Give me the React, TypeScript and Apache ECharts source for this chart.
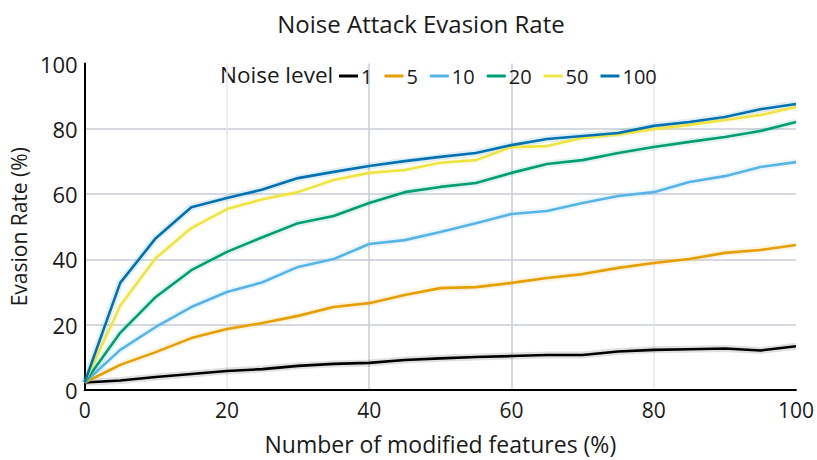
import React, { useEffect, useRef } from "react";
import * as echarts from "echarts";

const features = [0, 5, 10, 15, 20, 25, 30, 35, 40, 45, 50, 55, 60, 65, 70, 75, 80, 85, 90, 95, 100];
const noiseLevels = ["1", "5", "10", "20", "50", "100"];
const noise1 = [2.3, 2.9, 4.0, 4.9, 5.8, 6.4, 7.4, 8.0, 8.3, 9.2, 9.7, 10.1, 10.4, 10.7, 10.7, 11.8, 12.3, 12.5, 12.7, 12.1, 13.4];
const noise5 = [2.3, 7.7, 11.6, 15.9, 18.7, 20.5, 22.7, 25.4, 26.6, 29.1, 31.2, 31.5, 32.8, 34.3, 35.5, 37.4, 38.9, 40.1, 42.0, 42.9, 44.4];
const noise10 = [2.3, 12.3, 19.3, 25.4, 30.0, 33.0, 37.7, 40.1, 44.7, 45.9, 48.4, 51.1, 53.9, 54.8, 57.3, 59.4, 60.6, 63.7, 65.5, 68.3, 69.8];
const noise20 = [2.3, 17.5, 28.5, 36.7, 42.3, 46.8, 51.1, 53.3, 57.3, 60.6, 62.2, 63.4, 66.5, 69.2, 70.4, 72.6, 74.4, 76.0, 77.5, 79.3, 82.1];
const noise50 = [2.3, 25.8, 40.4, 49.6, 55.4, 58.4, 60.6, 64.3, 66.5, 67.4, 69.6, 70.4, 74.4, 74.7, 77.2, 78.3, 79.9, 81.2, 82.7, 84.2, 86.7];
const noise100 = [2.3, 32.8, 46.5, 56.0, 58.8, 61.4, 64.9, 66.8, 68.6, 70.1, 71.4, 72.6, 75.0, 76.9, 77.8, 78.7, 80.9, 82.1, 83.6, 86.0, 87.6];
const yTicks = [0, 20, 40, 60, 80, 100];
const xTicks = [0, 20, 40, 60, 80, 100];

const colors = ["#000000", "#E69F00", "#56B4E9", "#009E73", "#F0E442", "#0072B2"];
const FONT = "Open Sans";
const TEXT = "#1a1a1a";

export default function App() {
  const ref = useRef<HTMLDivElement>(null);
  useEffect(() => {
    if (!ref.current) return;
    const chart = echarts.init(ref.current, null, { renderer: "svg" });
    const all = [noise1, noise5, noise10, noise20, noise50, noise100];
    const pts = (arr: number[]) => arr.map((v, i) => [features[i], v]);
    const bands = all.map((arr, i) => ({
      name: noiseLevels[i] + " band",
      type: "line",
      data: pts(arr),
      showSymbol: false,
      silent: true,
      z: 1,
      lineStyle: { color: colors[i], width: 7, opacity: 0.12 },
    }));
    const lines = all.map((arr, i) => ({
      name: noiseLevels[i],
      type: "line",
      data: pts(arr),
      showSymbol: false,
      z: 3,
      itemStyle: { color: colors[i] },
      lineStyle: { color: colors[i], width: 2.6 },
    }));
    chart.setOption({
      animation: false,
      backgroundColor: "#ffffff",
      textStyle: { fontFamily: FONT, color: TEXT },
      title: {
        text: "Noise Attack Evasion Rate",
        left: 416,
        textAlign: "center",
        top: 6,
        textStyle: { fontFamily: FONT, fontSize: 24, fontWeight: "normal", color: TEXT },
      },
      graphic: [
        {
          type: "text",
          left: 220,
          top: 63,
          style: { text: "Noise level", font: `22.5px "${FONT}"`, fill: TEXT },
        },
      ],
      legend: {
        data: noiseLevels,
        left: 339,
        top: 66,
        icon: "rect",
        itemWidth: 19,
        itemHeight: 3,
        itemGap: 12,
        padding: 0,
        textStyle: { fontFamily: FONT, fontSize: 20, color: TEXT, padding: [0, 0, 0, -2] },
      },
      grid: { left: 84, right: 20, top: 63.5, bottom: 70, containLabel: false },
      xAxis: {
        type: "value",
        min: xTicks[0],
        max: xTicks[xTicks.length - 1],
        interval: 20,
        name: "Number of modified features (%)",
        nameLocation: "middle",
        nameGap: 42,
        nameTextStyle: { fontFamily: FONT, fontSize: 23, color: TEXT },
        axisLine: { lineStyle: { color: "#000", width: 2 } },
        axisTick: { show: false },
        axisLabel: { fontFamily: FONT, fontSize: 21, color: TEXT, margin: 9 },
        splitLine: {
          show: true,
          lineStyle: { color: ["transparent", "#e3e7ef", "#c9cdd6", "#c9cdd6", "#e3e7ef", "transparent"], width: 1.5 },
        },
      },
      yAxis: {
        type: "value",
        min: yTicks[0],
        max: yTicks[yTicks.length - 1],
        interval: 20,
        name: "Evasion Rate (%)",
        nameLocation: "middle",
        nameGap: 54,
        nameTextStyle: { fontFamily: FONT, fontSize: 21, color: TEXT },
        axisLine: { show: true, lineStyle: { color: "#000", width: 2 } },
        axisTick: { show: false },
        axisLabel: { fontFamily: FONT, fontSize: 22, color: TEXT, margin: 7 },
        splitLine: {
          show: true,
          lineStyle: { color: ["transparent", "#c9cdd6", "#c9cdd6", "#c9cdd6", "#c9cdd6", "transparent"], width: 1.5 },
        },
      },
      series: [...bands, ...lines],
    });
    return () => chart.dispose();
  }, []);
  return <div ref={ref} style={{ width: 817, height: 460, position: "absolute", left: 0, top: 0 }} />;
}
